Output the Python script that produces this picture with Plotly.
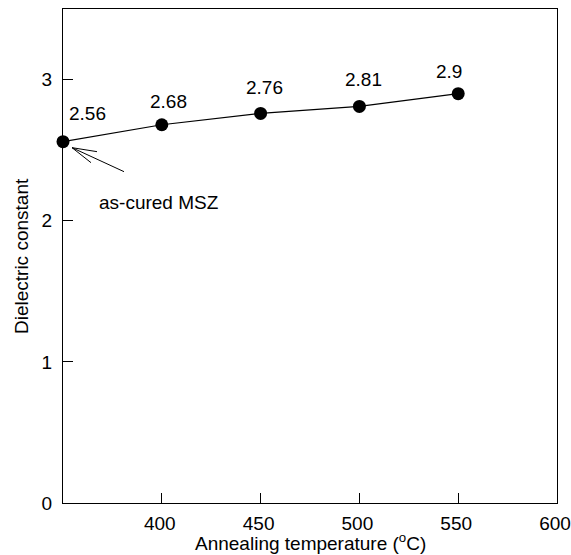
import plotly.graph_objects as go

temps = [350, 400, 450, 500, 550]
dielectric = [2.56, 2.68, 2.76, 2.81, 2.9]
labels = ["2.56", "2.68", "2.76", "2.81", "2.9"]
x_ticks = [400, 450, 500, 550, 600]
y_ticks = [0, 1, 2, 3]

# label placement (pixel offsets from each point) - styling only
label_dx = [4, 7, 4, 4, -9]
label_dy = [28, 23, 26, 27, 22]
label_anchor = ["left", "center", "center", "center", "center"]

FONT = "Liberation Sans, Arial, sans-serif"
FS = 19

fig = go.Figure()
fig.add_trace(go.Scatter(
    x=temps, y=dielectric, mode="lines+markers",
    line=dict(color="black", width=1.2),
    marker=dict(color="black", size=13),
    cliponaxis=False, showlegend=False,
))

for xv, yv, t, dx, dy, anc in zip(temps, dielectric, labels, label_dx, label_dy, label_anchor):
    fig.add_annotation(x=xv, y=yv, xref="x", yref="y", text=t, showarrow=False,
                       xanchor=anc, yanchor="middle", xshift=dx, yshift=dy,
                       font=dict(family=FONT, size=FS, color="black"))

# open arrow pointing to the as-cured point (pixel-sized line shapes anchored at the point)
tip = (9, -6)
for end in [(61, -30), (34, -10), (28, -21)]:
    fig.add_shape(type="line", xref="x", yref="y",
                  xsizemode="pixel", ysizemode="pixel",
                  xanchor=temps[0], yanchor=dielectric[0],
                  x0=tip[0], y0=tip[1], x1=end[0], y1=end[1],
                  line=dict(color="black", width=1))
fig.add_annotation(x=367, y=2.13, xref="x", yref="y", text="as-cured MSZ",
                   showarrow=False, xanchor="left", yanchor="middle",
                   font=dict(family=FONT, size=FS, color="black"))

# axis titles
fig.add_annotation(x=0.5, y=0, xref="paper", yref="paper",
                   text="Annealing temperature (<sup>o</sup>C)", showarrow=False,
                   xanchor="center", yanchor="middle", yshift=-39,
                   font=dict(family=FONT, size=FS, color="black"))
fig.add_annotation(x=0, y=0.5, xref="paper", yref="paper",
                   text="Dielectric constant", showarrow=False, textangle=-90,
                   xanchor="center", yanchor="middle", xshift=-42,
                   font=dict(family=FONT, size=FS, color="black"))

axis_common = dict(showgrid=False, zeroline=False, showline=True,
                   linecolor="black", linewidth=1, mirror=True,
                   ticks="inside", ticklen=10, tickcolor="black",
                   automargin=False, ticklabeloverflow="allow",
                   tickfont=dict(family=FONT, size=FS, color="black"))

fig.update_xaxes(range=[350, 600], tickvals=x_ticks,
                 ticktext=[str(v) for v in x_ticks],
                 ticklabelstandoff=3, ticklabelshift=-2, **axis_common)
fig.update_yaxes(range=[0, 3.5], tickvals=y_ticks,
                 ticktext=[str(v) for v in y_ticks],
                 ticklabelstandoff=6, **axis_common)

fig.update_layout(width=571, height=555,
                  margin=dict(l=63, r=14, t=9, b=52),
                  plot_bgcolor="white", paper_bgcolor="white",
                  font=dict(family=FONT, size=FS, color="black"))

fig.write_html("out.html")
